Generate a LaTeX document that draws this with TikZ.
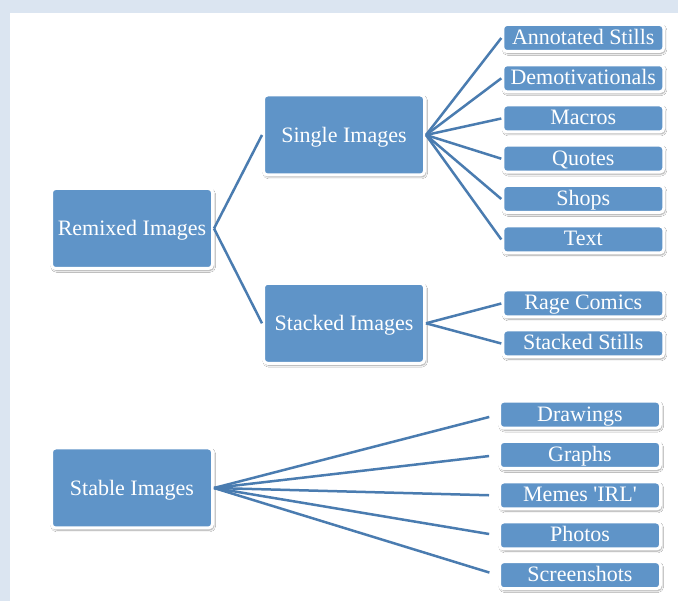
\documentclass[tikz,border=0pt]{standalone}
\usepackage{fontspec}
\setmainfont{Liberation Serif}
\usetikzlibrary{shadows.blur}
\definecolor{pagebg}{RGB}{219,229,241}
\definecolor{boxfill}{RGB}{95,148,200}
\definecolor{linkcol}{RGB}{74,124,176}
\tikzset{
  box/.style={draw=white, line width=3pt, fill=boxfill, rounded corners=4pt,
    inner sep=0pt, text=white, font=\fontsize{22}{26}\selectfont,
    blur shadow={shadow xshift=1.2pt, shadow yshift=-2pt, shadow blur steps=6, shadow opacity=40}},
  bigbox/.style={box, minimum width=161pt, minimum height=80pt, text height=15pt, text depth=0pt},
  leafbox/.style={box, minimum width=161pt, minimum height=27pt, text height=13pt, text depth=0pt},
  link/.style={draw=linkcol, line width=2.5pt},
}
\begin{document}
\begin{tikzpicture}[x=1pt, y=-1pt]
  % page frame
  \useasboundingbox (0,0) rectangle (678,601);
  \fill[pagebg] (0,0) rectangle (678,601);
  \fill[white] (10,13) rectangle (678,601);

  % main categories
  \node[bigbox] (remixed) at (132,228.5) {Remixed Images};
  \node[bigbox] (single)  at (344,135)   {Single Images};
  \node[bigbox] (stacked) at (344,323.3) {Stacked Images};
  \node[bigbox] (stable)  at (132,488)   {Stable Images};

  % single image kinds
  \node[leafbox] (annot) at (583.3,38)    {Annotated Stills};
  \node[leafbox] (demot) at (583.3,78.3)  {Demotivationals};
  \node[leafbox] (macro) at (583.3,118.5) {Macros};
  \node[leafbox] (quote) at (583.3,158.7) {Quotes};
  \node[leafbox] (shops) at (583.3,199)   {Shops};
  \node[leafbox] (text)  at (583.3,239.5) {Text};

  % stacked image kinds
  \node[leafbox] (rage)   at (583.3,303.5) {Rage Comics};
  \node[leafbox] (stills) at (583.3,343.5) {Stacked Stills};

  % stable image kinds
  \node[leafbox] (draw)   at (580,414.7) {Drawings};
  \node[leafbox] (graph)  at (580,455)   {Graphs};
  \node[leafbox] (irl)    at (580,495.5) {Memes \textquotesingle IRL\textquotesingle};
  \node[leafbox] (photo)  at (580,535.5) {Photos};
  \node[leafbox] (screen) at (580,575.2) {Screenshots};

  % connectors
  \draw[link] (remixed.east) -- (single.west);
  \draw[link] (remixed.east) -- (stacked.west);
  \foreach \leaf in {annot,demot,macro,quote,shops,text}
    \draw[link] (single.east) -- (\leaf.west);
  \foreach \leaf in {rage,stills}
    \draw[link] (stacked.east) -- (\leaf.west);
  \foreach \leaf in {draw,graph,irl,photo,screen}
    \draw[link, shorten >=9pt] (stable.east) -- (\leaf.west);
\end{tikzpicture}
\end{document}
